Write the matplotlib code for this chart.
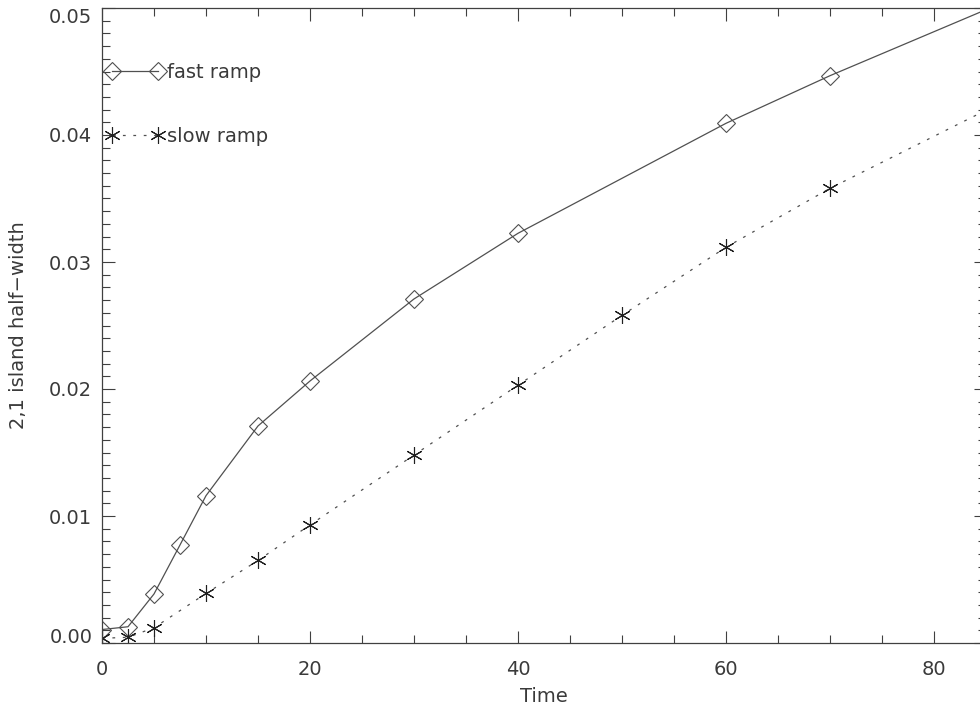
import numpy as np
import matplotlib.pyplot as plt
from matplotlib.lines import Line2D
from matplotlib.ticker import MultipleLocator, FormatStrFormatter

plt.rcParams['font.family'] = ['DejaVu Sans']
plt.rcParams['lines.scale_dashes'] = False

# island half-width vs time for the two ramp rates
time_fast = [0, 2.5, 5, 7.5, 10, 15, 20, 30, 40, 60, 70, 90]
width_fast = [0.00106, 0.00128, 0.00386, 0.00772, 0.0116, 0.01709, 0.02063,
              0.02709, 0.03226, 0.04092, 0.04467, 0.0516]
time_slow = [0, 2.5, 5, 10, 15, 20, 30, 40, 50, 60, 70, 90]
width_slow = [0.00037, 0.00045, 0.0012, 0.0039, 0.0065, 0.0093, 0.0148,
              0.0203, 0.0258, 0.03116, 0.0358, 0.0440]
labels = ['fast ramp', 'slow ramp']

txt = '#3a3a3a'
fs = 14

fig = plt.figure(figsize=(9.8, 7.08), dpi=100)
ax = fig.add_axes([102 / 980, 65 / 708, 884 / 980, 635 / 708])

star = (6, 2, 0)
ax.plot(time_fast, width_fast, color='#505050', lw=0.9,
        marker='D', ms=9, mfc='none', mec='#505050', mew=0.8)
ax.plot(time_slow, width_slow, color='#505050', lw=0.9, ls=(0, (2, 5.5)),
        marker=star, ms=12, mec='#202020', mew=0.8)

ax.set_xlim(0, 85)
ax.set_ylim(0, 0.05)
ax.xaxis.set_major_locator(MultipleLocator(20))
ax.xaxis.set_minor_locator(MultipleLocator(5))
ax.yaxis.set_major_locator(MultipleLocator(0.01))
ax.yaxis.set_minor_locator(MultipleLocator(0.001))
ax.yaxis.set_major_formatter(FormatStrFormatter('%.2f'))

ax.tick_params(which='both', direction='in', top=True, right=True,
               color='#404040', width=0.8, labelsize=fs, labelcolor=txt)
ax.tick_params(which='major', length=9)
ax.tick_params(which='minor', length=5.5)
ax.tick_params(axis='x', pad=12)
ax.tick_params(axis='y', pad=7)
for s in ax.spines.values():
    s.set_color('#404040')
    s.set_linewidth(0.9)

ax.set_xlabel('Time', fontsize=fs, color=txt, labelpad=6)
ax.set_ylabel('2,1 island half\u2212width', fontsize=fs, color=txt, labelpad=15)

# keep the end labels inside the axis span
fig.canvas.draw()
for lab in ax.get_yticklabels():
    if lab.get_text() == '0.00':
        lab.set_va('baseline')
    elif lab.get_text() == '0.05':
        lab.set_va('top')

handles = [
    Line2D([], [], color='#505050', lw=0.9, marker='D', ms=9, mfc='none',
           mec='#505050', mew=0.8),
    Line2D([], [], color='#505050', lw=0.9, ls=(0, (2, 5.5)), marker=star,
           ms=12, mec='#202020', mew=0.8),
]
leg = ax.legend(handles, labels, loc='upper left', bbox_to_anchor=(0.0045, 0.914),
                frameon=False, numpoints=2, handlelength=2.96, handletextpad=0.17,
                labelspacing=2.33, borderpad=0, borderaxespad=0, fontsize=fs)
for t in leg.get_texts():
    t.set_color(txt)

fig.savefig('out.png', dpi=100)
